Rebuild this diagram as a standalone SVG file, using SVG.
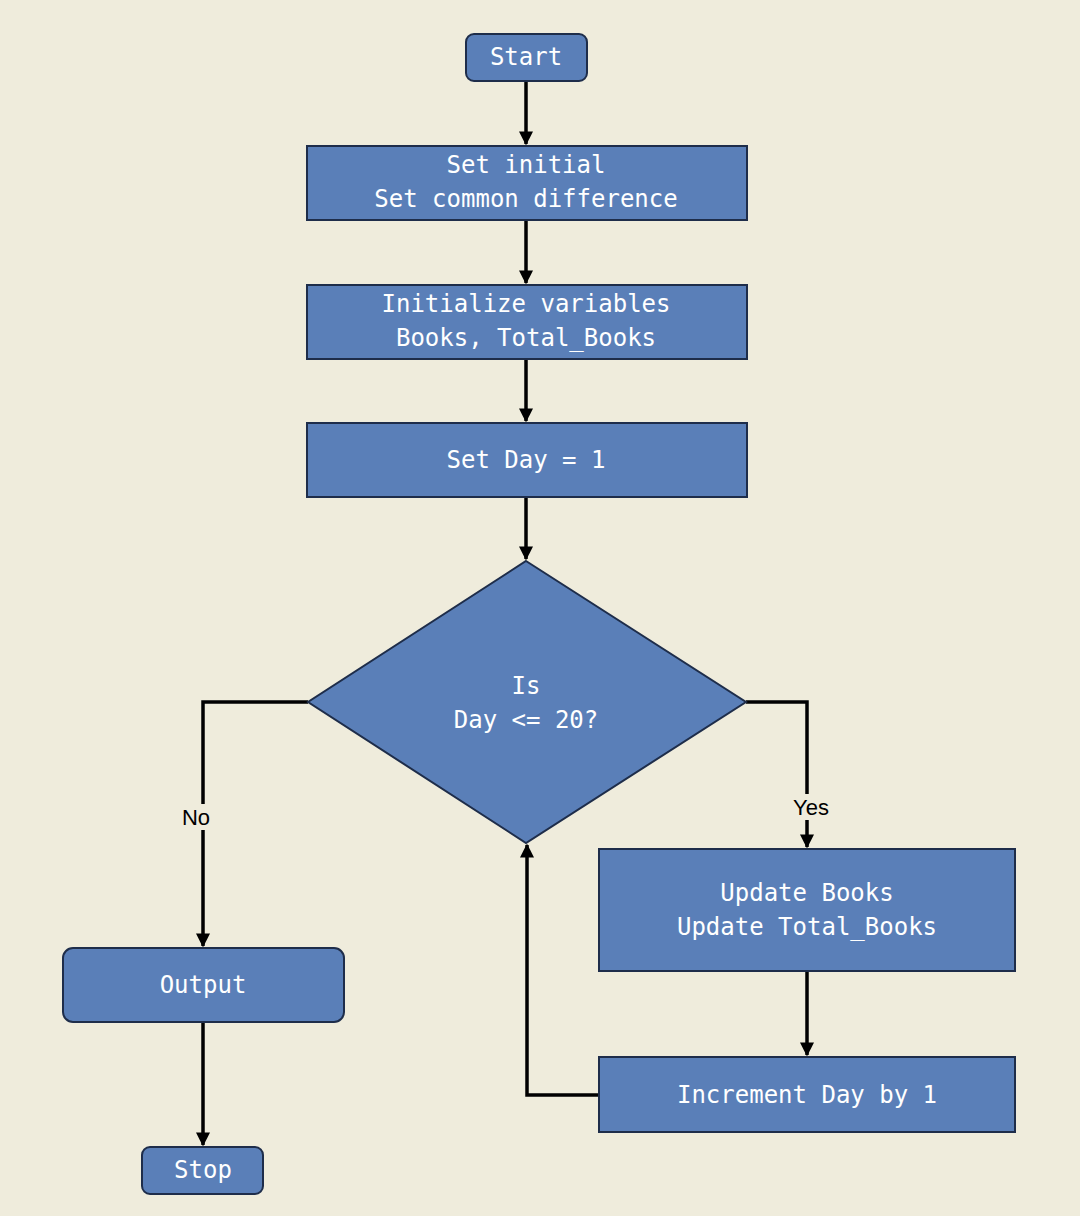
<svg xmlns="http://www.w3.org/2000/svg" width="1080" height="1216" viewBox="0 0 1080 1216">
<style>
.n{fill:#5A7FB8;stroke:#1E2D4A;stroke-width:2}
.t{fill:#fff;font-family:"DejaVu Sans Mono",monospace;font-size:24px;text-anchor:middle;dominant-baseline:central}
.c{fill:none;stroke:#000;stroke-width:3.5}
.l{font-family:"Liberation Sans",Arial,sans-serif;font-size:22px;text-anchor:middle;dominant-baseline:central;fill:#000}
</style>
<defs><marker id="a" viewBox="0 0 10 10" refX="9" refY="5" markerWidth="4" markerHeight="4" orient="auto"><path d="M0,0L10,5L0,10z" fill="#000"/></marker></defs>
<rect width="1080" height="1216" fill="#EFECDC"/>
<g id="connectors">
<path class="c" d="M526,81V144" marker-end="url(#a)"/>
<path class="c" d="M526,220V283" marker-end="url(#a)"/>
<path class="c" d="M526,359V421" marker-end="url(#a)"/>
<path class="c" d="M526,497V559" marker-end="url(#a)"/>
<path class="c" d="M746,702H807V847" marker-end="url(#a)"/>
<path class="c" d="M308,702H203V946" marker-end="url(#a)"/>
<path class="c" d="M807,971V1055" marker-end="url(#a)"/>
<path class="c" d="M599,1095H527V845" marker-end="url(#a)"/>
<path class="c" d="M203,1022V1145" marker-end="url(#a)"/>
<rect x="790" y="794" width="42" height="26" fill="#EFECDC"/>
<text class="l" x="811" y="807">Yes</text>
<rect x="178" y="804" width="36" height="26" fill="#EFECDC"/>
<text class="l" x="196" y="817">No</text>
</g>
<g id="start"><rect class="n" x="466" y="34" width="121" height="47" rx="8"/><text class="t" x="526" y="57">Start</text></g>
<g id="set"><rect class="n" x="307" y="146" width="440" height="74"/><text class="t" x="526" y="165">Set initial</text><text class="t" x="526" y="199">Set common difference</text></g>
<g id="init"><rect class="n" x="307" y="285" width="440" height="74"/><text class="t" x="526" y="304">Initialize variables</text><text class="t" x="526" y="338">Books, Total_Books</text></g>
<g id="day"><rect class="n" x="307" y="423" width="440" height="74"/><text class="t" x="526" y="460">Set Day = 1</text></g>
<g id="cond"><path class="n" d="M526,561L746,702L526,843L308,702z"/><text class="t" x="526" y="686">Is</text><text class="t" x="526" y="720">Day &lt;= 20?</text></g>
<g id="update"><rect class="n" x="599" y="849" width="416" height="122"/><text class="t" x="807" y="893">Update Books</text><text class="t" x="807" y="927">Update Total_Books</text></g>
<g id="inc"><rect class="n" x="599" y="1057" width="416" height="75"/><text class="t" x="807" y="1095">Increment Day by 1</text></g>
<g id="output"><rect class="n" x="63" y="948" width="281" height="74" rx="10"/><text class="t" x="203" y="985">Output</text></g>
<g id="stop"><rect class="n" x="142" y="1147" width="121" height="47" rx="8"/><text class="t" x="203" y="1170">Stop</text></g>
</svg>
